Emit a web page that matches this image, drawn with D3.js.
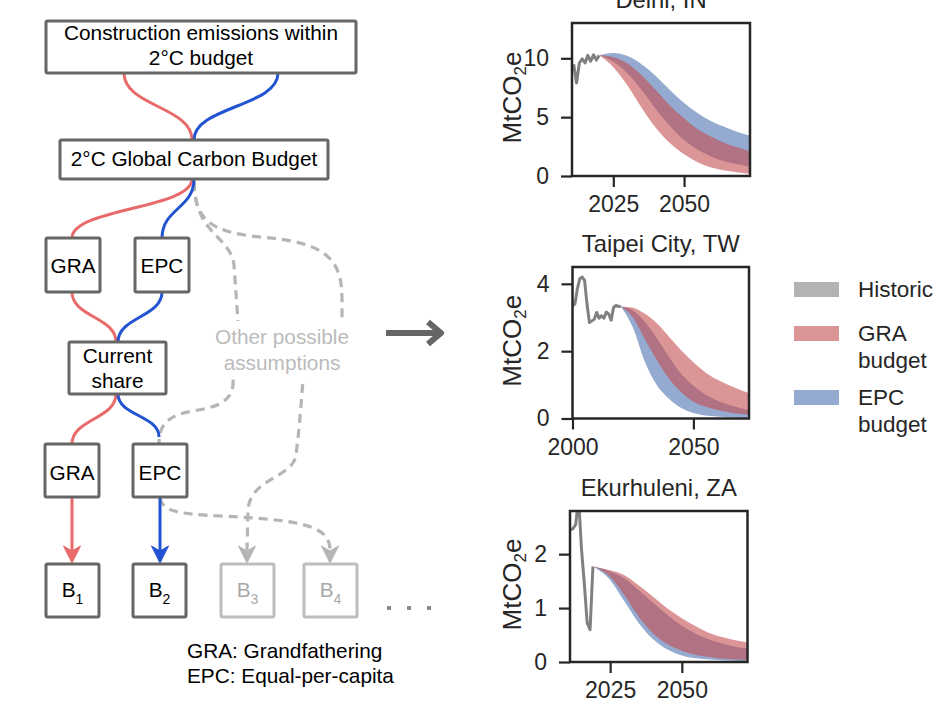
<!DOCTYPE html>
<html>
<head>
<meta charset="utf-8">
<title>City carbon budgets</title>
<script src="https://cdn.jsdelivr.net/npm/d3@7"></script>
<style>
  body { margin: 0; background: #fff; }
  svg text { font-family: "Liberation Sans", Arial, sans-serif; }
</style>
</head>
<body>
<svg id="fig" width="952" height="727"></svg>
<script>
// ---- data ----
var delhiHistYears = [2011, 2012, 2013, 2014, 2015, 2016, 2017, 2018, 2019, 2020];
var delhiHist      = [9.5, 7.9, 9.6, 9.95, 9.6, 10.25, 9.75, 10.3, 9.85, 10.25];
var delhiProjYears = [2020, 2025, 2030, 2035, 2040, 2045, 2050, 2055, 2060, 2065, 2070, 2073];
var delhiEpcHi = [10.25, 10.45, 10.2, 9.5, 8.5, 7.3, 6.2, 5.3, 4.6, 4.1, 3.65, 3.45];
var delhiEpcLo = [10.25, 9.7, 8.7, 7.3, 5.7, 4.25, 3.05, 2.2, 1.6, 1.2, 0.95, 0.8];
var delhiGraHi = [10.25, 10.1, 9.55, 8.55, 7.3, 6.0, 4.9, 3.95, 3.3, 2.75, 2.35, 2.1];
var delhiGraLo = [10.25, 9.25, 7.7, 5.8, 4.1, 2.8, 1.85, 1.15, 0.7, 0.45, 0.28, 0.2];

var taipeiHistYears = [2000, 2001, 2002, 2003, 2004, 2005, 2006, 2007, 2008, 2009, 2010,
                       2011, 2012, 2013, 2014, 2015, 2016, 2017, 2018, 2019, 2020];
var taipeiHist = [3.35, 3.4, 3.85, 4.15, 4.2, 4.1, 3.4, 2.85, 2.9, 2.95, 3.15,
                  2.98, 3.05, 2.98, 3.16, 3.1, 2.92, 3.3, 3.36, 3.33, 3.33];
var taipeiProjYears = [2020, 2025, 2030, 2035, 2040, 2045, 2050, 2055, 2060, 2065, 2070, 2073];
var taipeiGraHi = [3.33, 3.29, 3.11, 2.82, 2.42, 2.02, 1.67, 1.37, 1.15, 0.98, 0.83, 0.75];
var taipeiGraLo = [3.33, 3.0, 2.35, 1.72, 1.17, 0.78, 0.5, 0.35, 0.25, 0.18, 0.13, 0.11];
var taipeiEpcHi = [3.33, 3.21, 2.87, 2.37, 1.82, 1.32, 0.98, 0.71, 0.53, 0.4, 0.3, 0.25];
var taipeiEpcLo = [3.33, 2.7, 1.67, 0.98, 0.58, 0.31, 0.16, 0.09, 0.06, 0.04, 0.03, 0.03];

var ekurHistYears = [2011, 2012, 2013, 2014, 2015, 2016, 2017, 2018, 2019];
var ekurHist      = [2.45, 2.47, 2.55, 3.05, 2.1, 1.45, 0.72, 0.6, 1.77];
var ekurProjYears = [2019, 2025, 2030, 2035, 2040, 2045, 2050, 2055, 2060, 2065, 2070, 2073];
var ekurGraHi = [1.77, 1.7, 1.61, 1.42, 1.21, 0.99, 0.81, 0.66, 0.53, 0.45, 0.39, 0.36];
var ekurEpcHi = [1.77, 1.68, 1.55, 1.33, 1.1, 0.87, 0.67, 0.52, 0.41, 0.33, 0.27, 0.25];
var ekurGraLo = [1.77, 1.58, 1.24, 0.84, 0.53, 0.33, 0.21, 0.13, 0.09, 0.06, 0.045, 0.04];
var ekurEpcLo = [1.77, 1.52, 1.12, 0.72, 0.42, 0.23, 0.12, 0.07, 0.045, 0.03, 0.02, 0.02];

var legendNames = [["Historic"], ["GRA", "budget"], ["EPC", "budget"]];

// ---- colours ----
var red = "#e96a6a", blue = "#2253d1", boxGrey = "#666666", light = "#b5b5b5";
var graFill = "#c44e52", epcFill = "#4c72b0", histColor = "#808080";
var ink = "#262626";
var diagFont = 20.8;

var svg = d3.select("#fig");

// =================== flow diagram ===================
var link = d3.linkVertical().x(function(d) { return d[0]; }).y(function(d) { return d[1]; });
var diag = svg.append("g");

var redLinks = [
  [[124, 73], [192, 140]],
  [[192, 179], [72, 238]],
  [[72, 292], [116, 342]],
  [[116, 394], [72, 444]]
];
var blueLinks = [
  [[278, 73], [194, 140]],
  [[194, 179], [162, 238]],
  [[162, 292], [118, 342]],
  [[118, 394], [159, 437]]
];

// grey dashed "other assumptions"
var dashed = [
  "M194,182 C195,220 210,232 260,237 C330,242 342,262 342,300 L342,322 C342,350 305,355 303,380 C300,420 298,440 296,455 C293,478 250,478 248,510 L247,550",
  "M194,182 C195,235 230,235 234,265 L238,322 C239,350 234,355 233,385 C230,410 200,408 180,414 C163,420 159,430 159,444",
  "M160,498 C163,512 180,514 220,516 C300,520 330,525 330,550"
];
diag.selectAll("path.dash").data(dashed).enter().append("path")
  .attr("class", "dash").attr("d", function(d) { return d; })
  .attr("fill", "none").attr("stroke", light).attr("stroke-width", 3.2)
  .attr("stroke-dasharray", "9,6");

diag.selectAll("path.rl").data(redLinks).enter().append("path")
  .attr("class", "rl").attr("d", function(d) { return link({source: d[0], target: d[1]}); })
  .attr("fill", "none").attr("stroke", red).attr("stroke-width", 3);
diag.selectAll("path.bl").data(blueLinks).enter().append("path")
  .attr("class", "bl").attr("d", function(d) { return link({source: d[0], target: d[1]}); })
  .attr("fill", "none").attr("stroke", blue).attr("stroke-width", 3);

// straight arrows into the budgets
function arrowHead(x, tip, color) {
  diag.append("path")
    .attr("d", "M" + x + "," + tip + " l-8.5,-17 l8.5,5 l8.5,-5 z")
    .attr("fill", color).attr("stroke", color).attr("stroke-width", 1).attr("stroke-linejoin", "round");
}
diag.append("line").attr("x1", 72).attr("x2", 72).attr("y1", 497).attr("y2", 555)
  .attr("stroke", red).attr("stroke-width", 3);
arrowHead(72, 563, red);
diag.append("line").attr("x1", 160).attr("x2", 160).attr("y1", 497).attr("y2", 555)
  .attr("stroke", blue).attr("stroke-width", 3);
arrowHead(160, 563, blue);
arrowHead(247, 563, light);
arrowHead(330, 563, light);

// boxes
var boxes = [
  {lines: ["Construction emissions within", "2°C budget"], x: 46, y: 21, w: 310, h: 52, base: [40, 65]},
  {lines: ["2°C Global Carbon Budget"], x: 60, y: 140, w: 268, h: 39, base: [166]},
  {lines: ["GRA"], x: 46, y: 238, w: 54, h: 54, base: [273]},
  {lines: ["EPC"], x: 135, y: 238, w: 54, h: 54, base: [273]},
  {lines: ["Current", "share"], x: 69, y: 342, w: 97, h: 52, base: [363, 388]},
  {lines: ["GRA"], x: 45, y: 444, w: 54, h: 53, base: [480]},
  {lines: ["EPC"], x: 133, y: 444, w: 54, h: 53, base: [480]}
];
boxes.forEach(function(b) {
  diag.append("rect").attr("x", b.x).attr("y", b.y).attr("width", b.w).attr("height", b.h)
    .attr("rx", 1.5).attr("fill", "#fff").attr("stroke", boxGrey).attr("stroke-width", 3);
  b.lines.forEach(function(t, i) {
    diag.append("text").attr("x", b.x + b.w / 2).attr("y", b.base[i])
      .attr("text-anchor", "middle").attr("font-size", diagFont).attr("fill", "#000").text(t);
  });
});

var budgets = [
  {n: "1", x: 46, c: boxGrey, t: "#000"},
  {n: "2", x: 133, c: boxGrey, t: "#000"},
  {n: "3", x: 221, c: "#bdbdbd", t: "#a8a8a8"},
  {n: "4", x: 304, c: "#bdbdbd", t: "#a8a8a8"}
];
budgets.forEach(function(b) {
  diag.append("rect").attr("x", b.x).attr("y", 564).attr("width", 53).attr("height", 53)
    .attr("rx", 1.5).attr("fill", "#fff").attr("stroke", b.c).attr("stroke-width", 3);
  var t = diag.append("text").attr("x", b.x + 26.5).attr("y", 597)
    .attr("text-anchor", "middle").attr("font-size", diagFont).attr("fill", b.t);
  t.append("tspan").text("B");
  t.append("tspan").attr("font-size", 14).attr("dy", 7).text(b.n);
});
[389, 409, 429].forEach(function(x) {
  diag.append("rect").attr("x", x - 2).attr("y", 606).attr("width", 4).attr("height", 4).attr("fill", "#8a8a8a");
});

// label over the dashed lines
diag.append("rect").attr("x", 212).attr("y", 321).attr("width", 140).attr("height", 57).attr("fill", "#fff");
diag.append("text").attr("x", 282).attr("y", 344).attr("text-anchor", "middle")
  .attr("font-size", diagFont).attr("fill", "#bbbbbb").text("Other possible");
diag.append("text").attr("x", 282).attr("y", 370).attr("text-anchor", "middle")
  .attr("font-size", diagFont).attr("fill", "#bbbbbb").text("assumptions");

diag.append("text").attr("x", 187).attr("y", 658).attr("font-size", diagFont).text("GRA: Grandfathering");
diag.append("text").attr("x", 187).attr("y", 683).attr("font-size", diagFont).text("EPC: Equal-per-capita");

// big arrow to the charts
diag.append("path").attr("d", "M386,333 H440 M428,322 L441,333 L428,344")
  .attr("fill", "none").attr("stroke", boxGrey).attr("stroke-width", 6)
  .attr("stroke-linejoin", "round").attr("stroke-linecap", "butt");

// =================== city charts ===================
var cities = [
  {name: "Delhi, IN", left: 572, right: 750, top: 23, bottom: 176,
   xDomain: [2010.4, 2073.3], yMax: 13, xTicks: [2025, 2050], yTicks: [0, 5, 10],
   histYears: delhiHistYears, hist: delhiHist, projYears: delhiProjYears,
   epcHi: delhiEpcHi, epcLo: delhiEpcLo, graHi: delhiGraHi, graLo: delhiGraLo},
  {name: "Taipei City, TW", left: 572.5, right: 749, top: 267, bottom: 418.5,
   xDomain: [2000, 2073], yMax: 4.5, xTicks: [2000, 2050], yTicks: [0, 2, 4],
   histYears: taipeiHistYears, hist: taipeiHist, projYears: taipeiProjYears,
   epcHi: taipeiEpcHi, epcLo: taipeiEpcLo, graHi: taipeiGraHi, graLo: taipeiGraLo},
  {name: "Ekurhuleni, ZA", left: 570, right: 747.5, top: 511, bottom: 662,
   xDomain: [2011, 2072.9], yMax: 2.8, xTicks: [2025, 2050], yTicks: [0, 1, 2],
   histYears: ekurHistYears, hist: ekurHist, projYears: ekurProjYears,
   epcHi: ekurEpcHi, epcLo: ekurEpcLo, graHi: ekurGraHi, graLo: ekurGraLo}
];

cities.forEach(function(c, k) {
  var g = svg.append("g");
  var x = d3.scaleLinear().domain(c.xDomain).range([c.left, c.right]);
  var y = d3.scaleLinear().domain([0, c.yMax]).range([c.bottom, c.top]);

  g.append("clipPath").attr("id", "clip" + k).append("rect")
    .attr("x", c.left).attr("y", c.top).attr("width", c.right - c.left).attr("height", c.bottom - c.top);
  var plot = g.append("g").attr("clip-path", "url(#clip" + k + ")");

  var rows = c.projYears.map(function(yr, i) {
    return {year: yr, epcHi: c.epcHi[i], epcLo: c.epcLo[i], graHi: c.graHi[i], graLo: c.graLo[i]};
  });
  var band = function(lo, hi) {
    return d3.area().curve(d3.curveMonotoneX)
      .x(function(d) { return x(d.year); })
      .y0(function(d) { return y(d[lo]); })
      .y1(function(d) { return y(d[hi]); });
  };
  plot.append("path").datum(rows).attr("d", band("epcLo", "epcHi"))
    .attr("fill", epcFill).attr("fill-opacity", 0.6);
  plot.append("path").datum(rows).attr("d", band("graLo", "graHi"))
    .attr("fill", graFill).attr("fill-opacity", 0.6);

  var hist = c.histYears.map(function(yr, i) { return [yr, c.hist[i]]; });
  plot.append("path").datum(hist)
    .attr("d", d3.line().x(function(d) { return x(d[0]); }).y(function(d) { return y(d[1]); }))
    .attr("fill", "none").attr("stroke", histColor).attr("stroke-width", 3).attr("stroke-linejoin", "round");

  var xa = g.append("g").attr("transform", "translate(0," + c.bottom + ")")
    .call(d3.axisBottom(x).tickValues(c.xTicks).tickFormat(d3.format("d")).tickSize(11).tickPadding(9));
  var ya = g.append("g").attr("transform", "translate(" + c.left + ",0)")
    .call(d3.axisLeft(y).tickValues(c.yTicks).tickFormat(d3.format("d")).tickSize(11).tickPadding(12));
  [xa, ya].forEach(function(a) {
    a.select(".domain").remove();
    a.selectAll(".tick line").attr("stroke", ink).attr("stroke-width", 2.2);
    a.selectAll(".tick text").attr("fill", ink).attr("font-size", 23)
      .attr("font-family", "'Liberation Sans', Arial, sans-serif");
  });

  g.append("rect").attr("x", c.left).attr("y", c.top)
    .attr("width", c.right - c.left).attr("height", c.bottom - c.top)
    .attr("fill", "none").attr("stroke", ink).attr("stroke-width", 2.5);

  g.append("text").attr("x", (c.left + c.right) / 2).attr("y", c.top - 15)
    .attr("text-anchor", "middle").attr("font-size", 23.8).attr("fill", ink).text(c.name);

  var yl = g.append("text")
    .attr("transform", "translate(521," + ((c.top + c.bottom) / 2 - 2) + ") rotate(-90)")
    .attr("text-anchor", "middle").attr("font-size", 26).attr("fill", ink);
  yl.append("tspan").text("MtCO");
  yl.append("tspan").attr("font-size", 17).attr("dy", 5).text("2");
  yl.append("tspan").attr("dy", -5).text("e");
});

// legend
var legendColors = [histColor, graFill, epcFill];
var legendTops = [282, 326, 390];
var leg = svg.append("g");
legendNames.forEach(function(lines, i) {
  leg.append("rect").attr("x", 794).attr("y", legendTops[i]).attr("width", 45).attr("height", 15)
    .attr("fill", legendColors[i]).attr("fill-opacity", 0.6);
  lines.forEach(function(t, j) {
    leg.append("text").attr("x", 858).attr("y", legendTops[i] + 15 + j * 27)
      .attr("font-size", 22.5).attr("fill", ink).text(t);
  });
});
</script>
</body>
</html>
